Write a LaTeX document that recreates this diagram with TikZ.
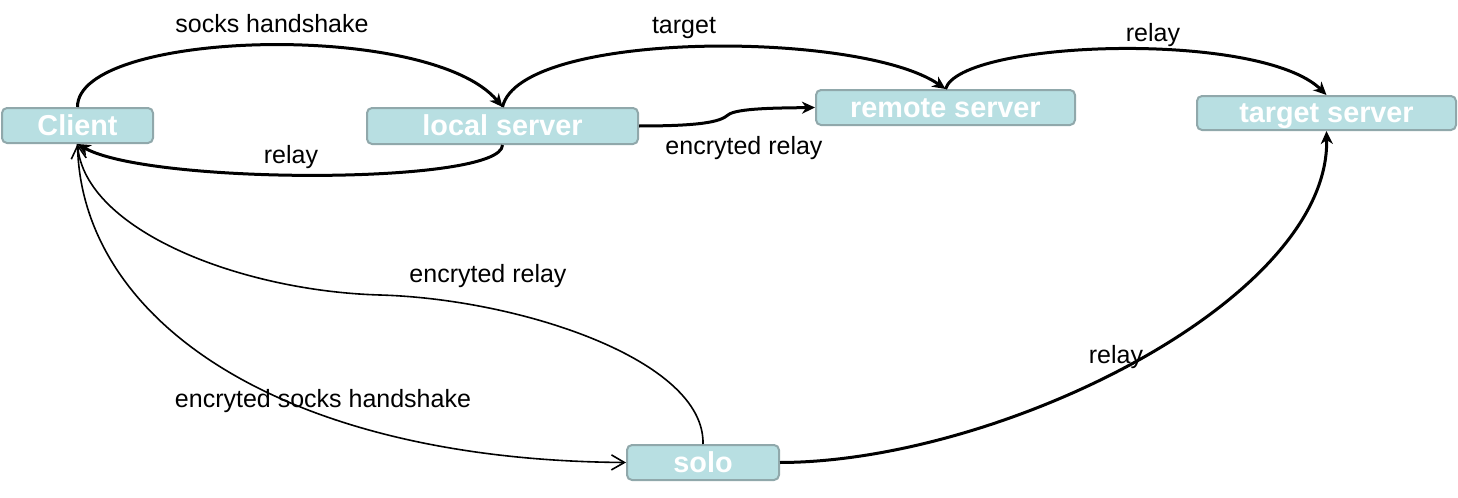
\documentclass[tikz,border=0pt]{standalone}
\usepackage{fontspec}
\setmainfont{Liberation Sans}
\usetikzlibrary{arrows.meta}
\definecolor{boxfill}{HTML}{B8DFE2}
\definecolor{boxline}{HTML}{90A8AB}
\begin{document}
\begin{tikzpicture}[x=0.5pt,y=-0.5pt,
  box/.style={draw=boxline, fill=boxfill, line width=1pt, rounded corners=2.5pt, text=white,
    font=\bfseries\fontsize{14.4}{16}\selectfont, inner sep=0pt, text height=10.5pt, text depth=1pt},
  lbl/.style={font=\fontsize{12.5}{14}\selectfont, inner sep=0pt},
  heavy/.style={line width=1.5pt, -{Stealth[length=6.5pt,width=6pt,inset=2pt]}},
  light/.style={line width=0.8pt, -{Straight Barb[length=6.5pt,width=7.5pt]}}
]
\useasboundingbox (0,0) rectangle (1458,498);

\node[box, minimum width=75.5pt, minimum height=17.5pt] (client) at (77.5,125.5) {Client};
\node[box, minimum width=135.5pt, minimum height=18pt] (local) at (502.5,126) {local server};
\node[box, minimum width=129.5pt, minimum height=17.5pt] (remote) at (945.5,107.5) {remote server};
\node[box, minimum width=129.5pt, minimum height=17pt] (target) at (1326.5,113) {target server};
\node[box, minimum width=76pt, minimum height=17.5pt] (solo) at (703,462.5) {solo};

\coordinate (w5) at (728,115);
\coordinate (m6) at (380,295);

\draw[heavy] (client.north) .. controls (77,30) and (430,20) .. (local.north);
\draw[heavy] (local.south) .. controls (502,185) and (150,185) .. (client.south);
\draw[heavy] (local.north) .. controls (520,30) and (860,30) .. (remote.north);
\draw[heavy] (remote.north) .. controls (960,40) and (1260,30) .. (target.north);
\draw[heavy] (local.east) .. controls (700,126) and (720,122) .. (w5) .. controls (736,108) and (780,108) .. (remote.west);
\draw[light] (solo.north) .. controls (705,360) and (520,299) .. (m6) .. controls (240,291) and (85,230) .. (client.south);
\draw[light] (client.south) .. controls (80,320) and (280,460) .. (solo.west);
\draw[heavy] (solo.east) .. controls (1000,462) and (1330,300) .. (target.south);

\node[lbl] (l1) at (272,24) {socks handshake};
\node[lbl] (l2) at (291,157) {relay};
\node[lbl] (l3) at (684,28) {target};
\node[lbl] (l4) at (1153,35) {relay};
\node[lbl] (l5) at (744,148) {encryted relay};
\node[lbl] (l6) at (488,276) {encryted relay};
\node[lbl] (l7) at (323,401) {encryted socks handshake};
\node[lbl] (l8) at (1116,357) {relay};
\end{tikzpicture}
\end{document}
